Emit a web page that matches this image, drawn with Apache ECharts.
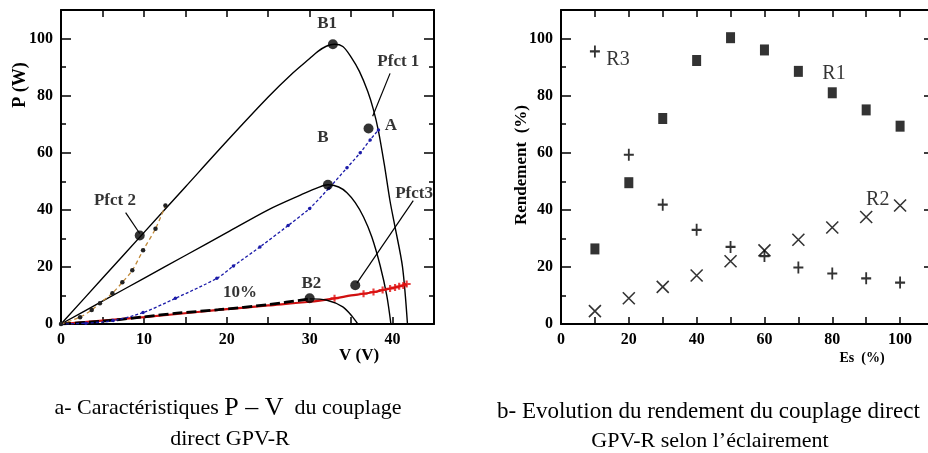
<!DOCTYPE html>
<html><head><meta charset="utf-8">
<script src="https://cdn.jsdelivr.net/npm/echarts@6/dist/echarts.min.js"></script>
<style>html,body{margin:0;padding:0;background:#fff}#c{width:928px;height:453px}</style>
</head><body><div id="c"></div>
<script>
// ---------- Left chart (P-V) data ----------
const b1V = [0,5,10,15,20,25,28,30,31,32,33,34,35,36,37,37.7,38.3,39,39.7,40.3,41.2,41.8];
const b1P = [0,16,32,48,64,79.5,88,93,95.5,97.3,98,97.2,93.5,88.5,81.5,75,67.6,56,43,34,20,0];
const bV  = [0,5,10,15,20,25,29,31,32.2,33.5,34.5,35.5,36.5,37.5,38.5,39.3,39.8];
const bP  = [0,8,16,24,32,40,45.3,47.8,48.8,48,46,42.5,37.5,30.5,20.5,10,0];
const b2RiseV = [0,5,10,14,19,25,30];
const b2RiseP = [0,1,2.5,3.8,5,6.8,8.8];
const b2DropV = [30,32,34,35.2,35.8];
const b2DropP = [8.8,8.4,6,2.4,0];
const blueV = [0,3,6.3,9.9,13.8,18.8,20.8,24,27.4,30,32.3,34.5,36.1,37.3,38.3];
const blueP = [0,0.3,1.2,4,9,16,20.3,27,34.5,40.5,47.5,54.7,60,64.5,68];
const orangeV = [0,2.3,3.7,4.7,6.2,7.4,8.6,9.9,11.4,12.6];
const orangeP = [0,2.4,4.9,7.3,10.8,14.6,18.8,25.8,33.4,41.5];
const redV = [0,5,10,16.8,20,25,30,33,35,36.5,37.7,39,40,41,41.7];
const redP = [0,1.2,2.4,4.3,5.2,6.5,7.8,9,10,10.6,11.2,12,12.6,13.3,14];
const redMarkV = [33,36.5,37.7,38.8,39.7,40.3,40.8,41.3,41.7];
const redMarkP = [9,10.6,11.2,11.9,12.4,12.8,13.2,13.5,14];
const dotV = [32.8,37.1,32.2,30,35.5,9.5];
const dotP = [98,68.5,48.8,9,13.6,31];
// annotations (data units)
const annL = [['B1',32.1,105.2],['Pfct 1',40.7,92],['A',39.8,69.5],['B',31.6,65.2],['Pfct 2',6.5,43.2],['10%',21.6,11.1],['B2',30.2,14.3],['Pfct3',42.6,45.6]];
const ptrL = [[[39.7,87.8],[37.6,72.8]],[[7.8,39],[9.5,31.7]],[[42.5,43.2],[35.7,14.3]]];

// ---------- Right chart (rendement) data ----------
const es = [10,20,30,40,50,60,70,80,90,100];
const r1 = [26.3,49.5,72,92.3,100.3,96,88.5,81,75,69.3];
const r2 = [4.5,9,13,17,22,25.8,29.5,33.8,37.5,41.5];
const r3 = [95.5,59.3,41.8,33,27,23.8,19.8,17.7,16,14.5];
const annR = [['R3',16.8,92.7],['R1',80.5,87.5],['R2',93.4,43.5]];

const zip = (a,b)=>a.map((v,i)=>[v,b[i]]);
const FONT = 'Liberation Serif';
const lab = {fontFamily:FONT,fontWeight:'bold',fontSize:16,color:'#000'};
const axLine = {lineStyle:{color:'#000',width:2}};

function xAx(grid,max,step,labels,pos){
  return {type:'value',gridIndex:grid,min:0,max:max,interval:step,position:pos,
    axisLine:Object.assign({onZero:false},axLine),
    axisTick:{inside:true,length:7,lineStyle:{color:'#000',width:1.5}},
    axisLabel:labels?Object.assign({margin:8,formatter:v=>(Math.round(v/step)%2===0?String(v):'')},lab):{show:false},
    splitLine:{show:false}};
}
function yAx(grid,labels,pos){
  return {type:'value',gridIndex:grid,min:0,max:110,interval:20,position:pos,
    axisLine:Object.assign({onZero:false},axLine),
    axisTick:{inside:true,length:10,lineStyle:{color:'#000',width:1.5}},
    minorTick:{show:true,splitNumber:2,length:5,lineStyle:{color:'#000',width:1.5}},
    axisLabel:labels?Object.assign({margin:8,showMaxLabel:false},lab):{show:false},
    splitLine:{show:false},minorSplitLine:{show:false}};
}

const series = [];
function curve(xs,ys,style,extra){
  series.push(Object.assign({type:'line',xAxisIndex:0,yAxisIndex:0,data:zip(xs,ys),smooth:0.3,
    showSymbol:false,lineStyle:style,z:3,silent:true},extra||{}));
}
curve(b1V,b1P,{color:'#000',width:1.4});
curve(bV,bP,{color:'#000',width:1.4});
curve(redV,redP,{color:'#d01010',width:2.2});
curve(b2RiseV,b2RiseP,{color:'#000',width:2.8,type:[10,4]});
curve(b2DropV,b2DropP,{color:'#000',width:1.4});
curve(blueV,blueP,{color:'#1a1aa8',width:1.3,type:[3,2]},{showSymbol:true,symbol:'circle',symbolSize:3.5,itemStyle:{color:'#1a1aa8'}});
curve(orangeV,orangeP,{color:'#c08a3a',width:1.3,type:[4,3]},{showSymbol:true,symbol:'circle',symbolSize:4.5,itemStyle:{color:'#222'}});
series.push({type:'scatter',xAxisIndex:0,yAxisIndex:0,data:zip(redMarkV,redMarkP),
  symbol:'path://M5,0L5,10M0,5L10,5',symbolSize:[8,7],itemStyle:{color:'none',borderColor:'#e01010',borderWidth:2},z:4,silent:true});
series.push({type:'scatter',xAxisIndex:0,yAxisIndex:0,data:zip(dotV,dotP),symbol:'circle',symbolSize:10,
  itemStyle:{color:'#000'},z:5,silent:true});
ptrL.forEach(p=>series.push({type:'line',xAxisIndex:0,yAxisIndex:0,data:p,showSymbol:false,
  lineStyle:{color:'#000',width:1.2},z:2,silent:true}));
series.push({type:'scatter',xAxisIndex:0,yAxisIndex:0,symbolSize:0,silent:true,
  data:annL.map(a=>({name:a[0],value:[a[1],a[2]]})),
  label:{show:true,position:'inside',formatter:p=>p.name,fontFamily:FONT,fontWeight:'bold',fontSize:17,color:'#000'}});

// right chart
series.push({type:'scatter',xAxisIndex:2,yAxisIndex:2,data:zip(es,r1),symbol:'rect',symbolSize:[9,11],
  itemStyle:{color:'#000'},silent:true});
series.push({type:'scatter',xAxisIndex:2,yAxisIndex:2,data:zip(es,r2),symbol:'path://M0,0L10,10M10,0L0,10',symbolSize:[12,12],
  itemStyle:{color:'none',borderColor:'#000',borderWidth:1.6},silent:true});
series.push({type:'scatter',xAxisIndex:2,yAxisIndex:2,data:zip(es,r3),symbol:'path://M5,0L5,10M0,5L10,5',symbolSize:[10,12],
  itemStyle:{color:'none',borderColor:'#000',borderWidth:2},silent:true});
series.push({type:'scatter',xAxisIndex:2,yAxisIndex:2,symbolSize:0,silent:true,
  data:annR.map(a=>({name:a[0],value:[a[1],a[2]]})),
  label:{show:true,position:'inside',formatter:p=>p.name,fontFamily:FONT,fontWeight:'normal',fontSize:20,color:'#000'}});

const chart = echarts.init(document.getElementById('c'),null,{renderer:'canvas'});
chart.setOption({
  animation:false,
  grid:[{left:61,top:10,width:373,height:314,outerBoundsMode:'none'},{left:561,top:10,width:373,height:314,outerBoundsMode:'none'}],
  xAxis:[xAx(0,45,5,true,'bottom'),xAx(0,45,5,false,'top'),xAx(1,110,10,true,'bottom'),xAx(1,110,10,false,'top')],
  yAxis:[yAx(0,true,'left'),yAx(0,false,'right'),yAx(1,true,'left'),yAx(1,false,'right')],
  series:series,
  graphic:[
    {type:'text',x:20,y:85,rotation:Math.PI/2,style:{text:'P (W)',font:'bold 18px "Liberation Serif"',fill:'#000',textAlign:'center',textVerticalAlign:'middle'}},
    {type:'text',x:359,y:356,style:{text:'V (V)',font:'bold 17px "Liberation Serif"',fill:'#000',textAlign:'center',textVerticalAlign:'middle'}},
    {type:'text',x:522,y:165,rotation:Math.PI/2,style:{text:'Rendement  (%)',font:'bold 17px "Liberation Serif"',fill:'#000',textAlign:'center',textVerticalAlign:'middle'}},
    {type:'text',x:862,y:358,style:{text:'Es  (%)',font:'bold 14px "Liberation Serif"',fill:'#000',textAlign:'center',textVerticalAlign:'middle'}},
    {type:'text',x:228,y:408,style:{text:'{a|a- Caractéristiques }{b|P – V}{a|  du couplage}',textAlign:'center',textVerticalAlign:'middle',
      rich:{a:{font:'22px "Liberation Serif"',fill:'#000'},b:{font:'26px "Liberation Serif"',fill:'#000'}}}},
    {type:'text',x:230,y:439,style:{text:'direct GPV-R',font:'22px "Liberation Serif"',fill:'#000',textAlign:'center',textVerticalAlign:'middle'}},
    {type:'text',x:497,y:412,style:{text:'b- Evolution du rendement du couplage direct',font:'23px "Liberation Serif"',fill:'#000',textAlign:'left',textVerticalAlign:'middle'}},
    {type:'text',x:710,y:441,style:{text:'GPV-R selon l’éclairement',font:'22px "Liberation Serif"',fill:'#000',textAlign:'center',textVerticalAlign:'middle'}}
  ]
});
</script></body></html>
